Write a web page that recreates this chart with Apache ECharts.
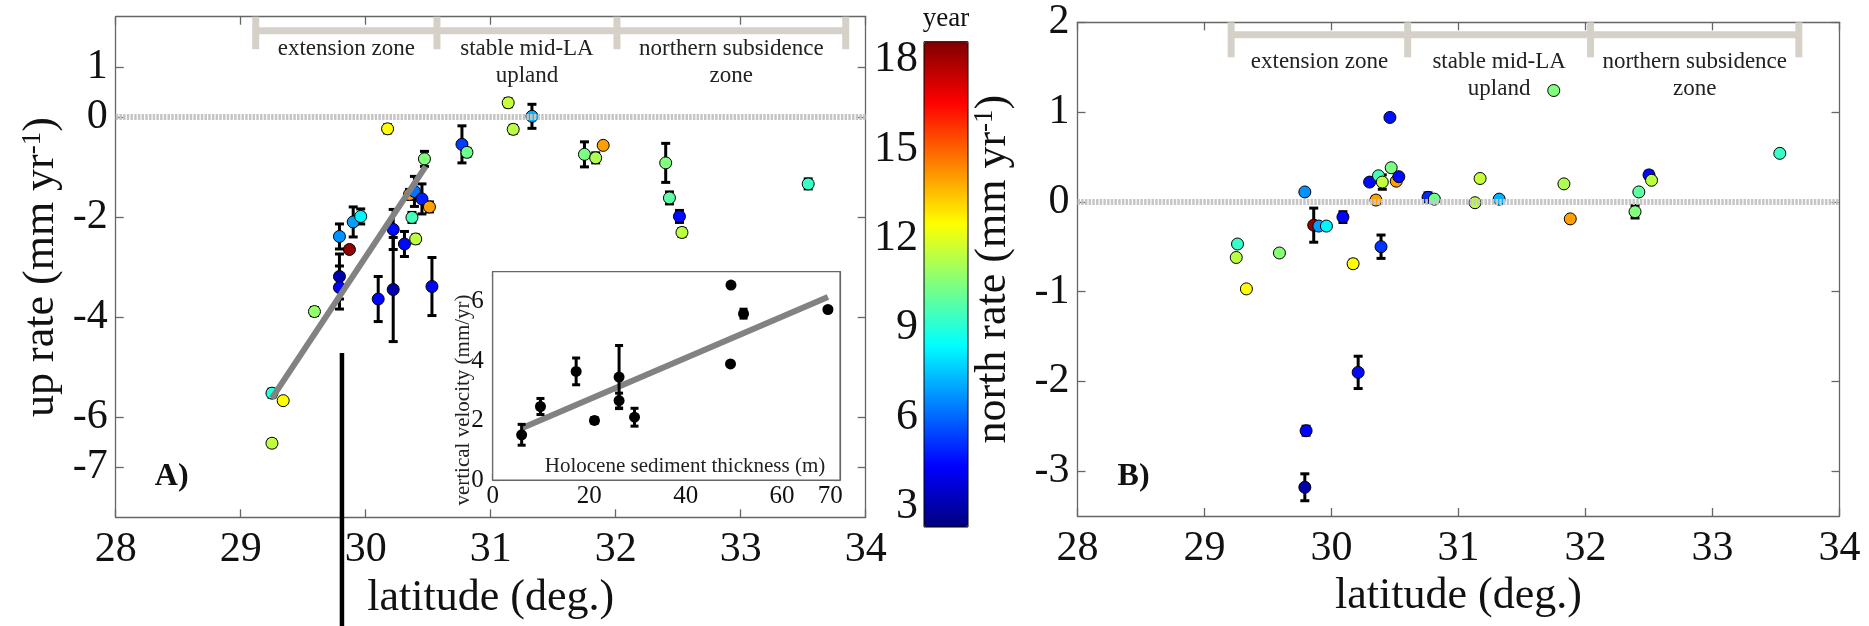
<!DOCTYPE html>
<html><head><meta charset="utf-8">
<script src="https://cdn.jsdelivr.net/npm/echarts@6/dist/echarts.min.js"></script>
<style>html,body{margin:0;padding:0;background:#fff}#c{width:1869px;height:626px}</style>
</head><body><div id="c"></div>
<script>
// ---------- data ----------
const latA  = [29.25, 29.34, 29.25, 29.59, 29.79, 29.79, 29.79, 29.87, 29.90, 29.96, 30.10, 30.175, 30.22, 30.22, 30.31, 30.35, 30.37, 30.39, 30.40, 30.45, 30.47, 30.51, 30.53, 30.77, 30.81, 31.14, 31.18, 31.33, 31.75, 31.84, 31.90, 32.40, 32.43, 32.51, 32.53, 33.54];
const upA   = [-5.52, -5.67, -6.52, -3.89, -2.39, -3.19, -3.41, -2.65, -2.10, -1.99, -3.64, -0.24, -2.25, -3.45, -2.54, -1.55, -2.01, -1.49, -2.44, -1.64, -0.84, -1.80, -3.39, -0.55, -0.71, 0.28, -0.25, 0.01, -0.75, -0.82, -0.57, -0.92, -1.62, -1.99, -2.31, -1.34];
const errA  = [0.08, 0.05, 0.07, 0.08, 0.25, 0.45, 0.43, 0.05, 0.3, 0.15, 0.45, 0.08, 0.4, 1.04, 0.25, 0.1, 0.1, 0.3, 0.08, 0.3, 0.15, 0.1, 0.58, 0.37, 0.08, 0.08, 0.08, 0.24, 0.25, 0.1, 0.05, 0.39, 0.12, 0.12, 0.08, 0.1];
const yearA = [9.0, 12.5, 11.5, 10.8, 6.7, 3.0, 4.4, 18.3, 6.9, 8.3, 4.4, 12.5, 4.5, 3.0, 4.5, 14.0, 9.5, 6.2, 11.5, 4.8, 10.5, 14.0, 4.4, 5.3, 10.2, 11.6, 11.4, 7.2, 10.4, 11.2, 14.0, 10.5, 9.9, 4.5, 11.4, 9.3];

const latB   = [29.25, 29.26, 29.33, 29.59, 29.79, 29.80, 29.79, 29.86, 29.90, 29.96, 30.09, 30.17, 30.21, 30.30, 30.35, 30.37, 30.39, 30.40, 30.46, 30.47, 30.51, 30.53, 30.76, 30.81, 31.13, 31.17, 31.32, 31.75, 31.83, 31.88, 32.39, 32.42, 32.50, 32.52, 33.53];
const northB = [-0.62, -0.47, -0.97, -0.57, 0.11, -2.55, -3.18, -0.26, -0.27, -0.27, -0.17, -0.69, -1.90, 0.22, 0.02, 0.29, -0.50, 0.22, 0.94, 0.38, 0.23, 0.28, 0.05, 0.03, -0.01, 0.26, 0.03, 1.24, 0.20, -0.19, -0.11, 0.11, 0.30, 0.24, 0.54];
const errB   = [0, 0, 0, 0, 0, 0.05, 0.15, 0.19, 0, 0, 0.06, 0.04, 0.18, 0.03, 0.04, 0, 0.13, 0.08, 0, 0, 0, 0, 0.05, 0, 0, 0.03, 0, 0, 0, 0, 0.07, 0, 0.04, 0, 0];
const yearB  = [11.4, 9.3, 12.5, 10.6, 6.7, 4.4, 3.0, 18.3, 6.9, 8.3, 4.4, 12.5, 4.5, 4.5, 14.0, 9.5, 5.2, 11.5, 4.6, 10.4, 14.0, 4.5, 5.0, 10.2, 11.4, 11.6, 7.2, 10.5, 11.2, 14.0, 10.5, 9.9, 4.5, 11.4, 9.3];

const sedThick = [6.0, 9.9, 17.3, 21.1, 26.2, 26.2, 29.4, 49.4, 52.0, 49.3, 69.5];
const vertVel  = [1.52, 2.47, 3.65, 2.0, 3.46, 2.67, 2.11, 6.55, 5.59, 3.90, 5.73];
const vertErr  = [0.35, 0.27, 0.45, 0.1, 1.06, 0.25, 0.3, 0, 0.15, 0, 0];

const fitALat = [29.25, 30.48];
const fitAUp  = [-5.62, -0.99];
const fitInsetT = [6.0, 69.5];
const fitInsetV = [1.74, 6.15];

const zoneNames  = ['extension zone', 'stable mid-LA\nupland', 'northern subsidence\nzone'];
const zoneEdgesA = [29.12, 30.57, 32.01, 33.84];
const zoneEdgesB = [29.21, 30.60, 32.04, 33.68];

const markLineLat = 29.81;   // vertical black marker line (left panel)
const markLineTop = -4.72;

const xTicks      = [28, 29, 30, 31, 32, 33, 34];
const upTicks     = [-7, -6, -4, -2, 0, 1];
const northTicks  = [-3, -2, -1, 0, 1, 2];
const yearTicks   = [3, 6, 9, 12, 15, 18];
const insetXLabels = [0, 20, 40, 60, 70];
const insetXTicks  = [0, 20, 40, 60];
const insetYTicks  = [0, 2, 4, 6];
const yearMin = 2.32, yearMax = 18.6;

// ---------- styling ----------
const FONT = "'Liberation Serif', 'DejaVu Serif', serif";
const AX = '#666';
const TXT = '#111';
const jet = ['#00007f', '#0000ff', '#007fff', '#00ffff', '#7fff7f', '#ffff00', '#ff7f00', '#ff0000', '#7f0000'];

function errRender(capHalf, lw) {
  return function (params, api) {
    const x = api.value(0), y = api.value(1), e = api.value(2);
    const t = api.coord([x, y + e]), b = api.coord([x, y - e]);
    const st = { stroke: '#000', lineWidth: lw };
    return { type: 'group', children: [
      { type: 'line', shape: { x1: t[0], y1: t[1], x2: b[0], y2: b[1] }, style: st },
      { type: 'line', shape: { x1: t[0] - capHalf, y1: t[1], x2: t[0] + capHalf, y2: t[1] }, style: st },
      { type: 'line', shape: { x1: b[0] - capHalf, y1: b[1], x2: b[0] + capHalf, y2: b[1] }, style: st }
    ]};
  };
}
function zoneRender(cfg, nEdges) {
  return function (params, api) {
    const s = api.value(0), e = api.value(1), i = api.value(2);
    const p0 = api.coord([s, cfg.barY]), p1 = api.coord([e, cfg.barY]);
    const st = { stroke: '#d5d1c9', lineWidth: 7 };
    const ch = [
      { type: 'line', shape: { x1: p0[0], y1: p0[1], x2: p1[0], y2: p1[1] }, style: st }
    ];
    const tt = api.coord([s, cfg.tickTop]), tb = api.coord([s, cfg.tickBot]);
    ch.push({ type: 'line', shape: { x1: tt[0], y1: tt[1], x2: tb[0], y2: tb[1] }, style: st });
    if (i === nEdges - 2) {
      const et = api.coord([e, cfg.tickTop]), eb = api.coord([e, cfg.tickBot]);
      ch.push({ type: 'line', shape: { x1: et[0], y1: et[1], x2: eb[0], y2: eb[1] }, style: st });
    }
    const tp = api.coord([(s + e) / 2, cfg.textY]);
    ch.push({ type: 'text', x: tp[0], y: tp[1], style: {
      text: zoneNames[i], fill: '#222', fontFamily: FONT, fontSize: 23, lineHeight: 27,
      align: 'center', verticalAlign: 'top' } });
    return { type: 'group', children: ch };
  };
}

function boxX(grid, pos, labels, name, nameGap) {
  return {
    gridIndex: grid, type: 'value', position: pos, min: 28, max: 34, interval: 1,
    axisLine: { onZero: false, lineStyle: { color: AX, width: 1.3 } },
    axisTick: { inside: true, length: 8, lineStyle: { color: AX, width: 1.3 } },
    axisLabel: { show: labels, fontFamily: FONT, fontSize: 42, color: TXT, margin: 12 },
    splitLine: { show: false },
    name: name || '', nameLocation: 'middle', nameGap: nameGap || 0,
    nameTextStyle: { fontFamily: FONT, fontSize: 44, color: TXT }
  };
}
function boxY(grid, pos, min, max, ticks, labels, name, nameGap) {
  return {
    gridIndex: grid, type: 'value', position: pos, min: min, max: max,
    axisLine: { onZero: false, lineStyle: { color: AX, width: 1.3 } },
    axisTick: { inside: true, length: 8, customValues: ticks, lineStyle: { color: AX, width: 1.3 } },
    axisLabel: { show: labels, customValues: ticks, fontFamily: FONT, fontSize: 42, color: TXT, margin: 8 },
    splitLine: { show: false },
    name: name || '', nameLocation: 'middle', nameGap: nameGap || 0,
    nameTextStyle: { fontFamily: FONT, fontSize: 44, color: TXT,
      rich: { a: { fontFamily: FONT, fontSize: 44, color: TXT },
              b: { fontFamily: FONT, fontSize: 27, color: TXT, verticalAlign: 'top', padding: [0, 0, 14, 0] } } }
  };
}
function insetAxis(dir, pos, labels) {
  const isX = dir === 'x';
  return {
    gridIndex: 2, type: 'value', position: pos,
    min: 0, max: isX ? 72 : 7,
    axisLine: { onZero: false, lineStyle: { color: AX, width: 1.2 } },
    axisTick: { inside: true, length: 6, customValues: isX ? insetXTicks : insetYTicks, lineStyle: { color: AX, width: 1.2 } },
    axisLabel: { show: labels, customValues: isX ? insetXLabels : insetYTicks, fontFamily: FONT, fontSize: 25, color: TXT, margin: isX ? 4 : 9 },
    splitLine: { show: false }
  };
}

const scatA = latA.map((v, i) => [v, upA[i], yearA[i]]);
const errAData = latA.map((v, i) => [v, upA[i], errA[i]]).filter(d => d[2] > 0);
const scatB = latB.map((v, i) => [v, northB[i], yearB[i]]);
const errBData = latB.map((v, i) => [v, northB[i], errB[i]]).filter(d => d[2] > 0);
const insetPts = sedThick.map((v, i) => [v, vertVel[i]]);
const insetErr = sedThick.map((v, i) => [v, vertVel[i], vertErr[i]]).filter(d => d[2] > 0);
const zonesA = zoneNames.map((n, i) => [zoneEdgesA[i], zoneEdgesA[i + 1], i]);
const zonesB = zoneNames.map((n, i) => [zoneEdgesB[i], zoneEdgesB[i + 1], i]);

const zeroLine = {
  silent: true, symbol: 'none', label: { show: false },
  lineStyle: { color: '#c6c6c6', width: 6, type: [2.5, 1.2], opacity: 1 },
  data: [{ yAxis: 0 }]
};
const scatterStyle = { borderColor: '#000', borderWidth: 1, opacity: 1 };

const chart = echarts.init(document.getElementById('c'), null, { renderer: 'canvas' });
const option = {
  animation: false,
  backgroundColor: '#fff',
  grid: [
    { left: 115.7, top: 16.7, width: 750, height: 500.6 },
    { left: 1077.5, top: 22.3, width: 762, height: 493.7 },
    { left: 492.7, top: 271.7, width: 347.3, height: 208.3, show: true, backgroundColor: '#fff', borderColor: AX, borderWidth: 1.2, z: 3 },
    { left: 924, top: 41.7, width: 44, height: 485.3, show: true, backgroundColor: 'transparent', borderColor: '#000', borderWidth: 1, z: 10 }
  ],
  xAxis: [
    boxX(0, 'bottom', true, 'latitude (deg.)', 58),
    boxX(0, 'top', false),
    boxX(1, 'bottom', true, 'latitude (deg.)', 58),
    boxX(1, 'top', false),
    insetAxis('x', 'bottom', true),
    insetAxis('x', 'top', false),
    { gridIndex: 3, type: 'value', min: 0, max: 1, show: false }
  ],
  yAxis: [
    boxY(0, 'left', -8, 2, upTicks, true, '{a|up rate (mm yr}{b|-1}{a|)}', 52),
    boxY(0, 'right', -8, 2, upTicks, false),
    boxY(1, 'left', -3.5, 2, northTicks, true, '{a|north rate (mm yr}{b|-1}{a|)}', 62),
    boxY(1, 'right', -3.5, 2, northTicks, false),
    insetAxis('y', 'left', true),
    insetAxis('y', 'right', false),
    { gridIndex: 3, type: 'value', position: 'left', min: yearMin, max: yearMax,
      axisLine: { show: false }, splitLine: { show: false },
      axisTick: { show: false, customValues: yearTicks },
      axisLabel: { customValues: yearTicks, fontFamily: FONT, fontSize: 44, color: TXT, margin: 6 } }
  ],
  visualMap: {
    type: 'continuous', min: yearMin, max: yearMax, dimension: 2, seriesIndex: [0, 4],
    calculable: false, hoverLink: false, orient: 'vertical', padding: 0,
    left: 924, top: 41.7, itemWidth: 44, itemHeight: 485.3,
    inRange: { color: jet }
  },
  series: [
    { type: 'scatter', xAxisIndex: 0, yAxisIndex: 0, data: scatA, symbol: 'circle', symbolSize: 12,
      itemStyle: scatterStyle, z: 3, markLine: zeroLine },
    { type: 'custom', xAxisIndex: 0, yAxisIndex: 0, data: errAData, encode: { x: 0, y: 1 },
      renderItem: errRender(4.5, 3), z: 2 },
    { type: 'line', xAxisIndex: 0, yAxisIndex: 0, data: fitALat.map((v, i) => [v, fitAUp[i]]),
      symbol: 'none', lineStyle: { color: '#828282', width: 6 }, z: 4 },
    { type: 'custom', xAxisIndex: 0, yAxisIndex: 0, data: zonesA, encode: { x: [0, 1] },
      renderItem: zoneRender({ barY: 1.72, tickTop: 2.0, tickBot: 1.35, textY: 1.616 }, zoneEdgesA.length), z: 1 },

    { type: 'scatter', xAxisIndex: 2, yAxisIndex: 2, data: scatB, symbol: 'circle', symbolSize: 12,
      itemStyle: scatterStyle, z: 3, markLine: zeroLine },
    { type: 'custom', xAxisIndex: 2, yAxisIndex: 2, data: errBData, encode: { x: 0, y: 1 },
      renderItem: errRender(4.5, 3), z: 2 },
    { type: 'custom', xAxisIndex: 2, yAxisIndex: 2, data: zonesB, encode: { x: [0, 1] },
      renderItem: zoneRender({ barY: 1.86, tickTop: 2.0, tickBot: 1.61, textY: 1.71 }, zoneEdgesB.length), z: 1 },

    { type: 'scatter', xAxisIndex: 4, yAxisIndex: 4, data: insetPts, symbol: 'circle', symbolSize: 11,
      itemStyle: { color: '#000', opacity: 1 }, z: 6 },
    { type: 'custom', xAxisIndex: 4, yAxisIndex: 4, data: insetErr, encode: { x: 0, y: 1 },
      renderItem: errRender(4, 3), z: 5 },
    { type: 'line', xAxisIndex: 4, yAxisIndex: 4, data: fitInsetT.map((v, i) => [v, fitInsetV[i]]),
      symbol: 'none', lineStyle: { color: '#828282', width: 6 }, z: 4 },

    { type: 'scatter', xAxisIndex: 6, yAxisIndex: 6, data: [] }
  ],
  graphic: [
    { id: 'lblA', type: 'text', x: 171.7, y: 476.7, z: 20, style: { text: 'A)', fontFamily: FONT, fontSize: 32, fontWeight: 'bold', fill: TXT, align: 'center', verticalAlign: 'middle' } },
    { id: 'lblB', type: 'text', x: 1133.6, y: 476.7, z: 20, style: { text: 'B)', fontFamily: FONT, fontSize: 32, fontWeight: 'bold', fill: TXT, align: 'center', verticalAlign: 'middle' } },
    { id: 'year', type: 'text', x: 946, y: 19, z: 20, style: { text: 'year', fontFamily: FONT, fontSize: 27, fill: TXT, align: 'center', verticalAlign: 'middle' } },
    { id: 'insY', type: 'text', x: 463.5, y: 400, rotation: Math.PI / 2, z: 20, style: { text: 'vertical velocity (mm/yr)', fontFamily: FONT, fontSize: 21, fill: '#222', align: 'center', verticalAlign: 'middle' } },
    { id: 'insX', type: 'text', x: 685, y: 466.7, z: 20, style: { text: 'Holocene sediment thickness (m)', fontFamily: FONT, fontSize: 21, fill: '#222', align: 'center', verticalAlign: 'middle' } }
  ]
};
chart.setOption(option);
const pTop = chart.convertToPixel({ xAxisIndex: 0, yAxisIndex: 0 }, [markLineLat, markLineTop]);
chart.setOption({ graphic: [
  { id: 'vline', type: 'line', z: 30, shape: { x1: pTop[0], y1: pTop[1], x2: pTop[0], y2: 626 }, style: { stroke: '#000', lineWidth: 4.5 } }
] });
</script></body></html>
